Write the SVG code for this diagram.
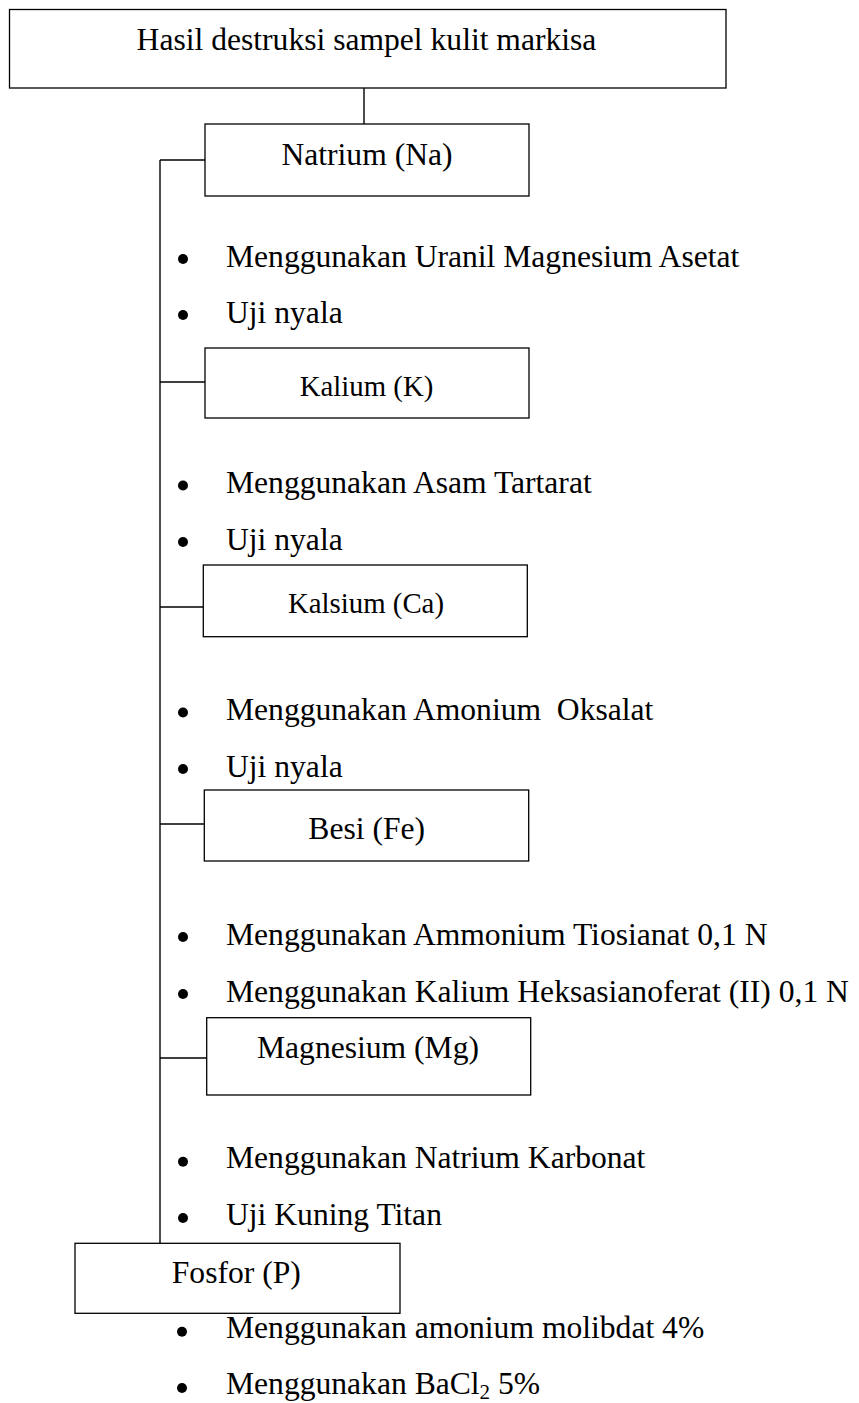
<svg xmlns="http://www.w3.org/2000/svg" width="859" height="1403" viewBox="0 0 859 1403">
  <style>
    .box { fill: #fff; stroke: #000; stroke-width: 1.3; }
    .wire { fill: none; stroke: #000; stroke-width: 1.4; }
    .t { font-family: "Liberation Serif", "Times New Roman", serif; font-size: 31.6px; fill: #000; white-space: pre; }
    .c { text-anchor: middle; }
    .sm { font-size: 28.8px; }
    .dot { fill: #000; }
  </style>

  <rect width="859" height="1403" fill="#fff"/>

  <!-- connectors: drop from the sample box and the left trunk with its branches -->
  <g id="connectors">
    <line class="wire" x1="364" y1="88" x2="364" y2="124"/>
    <line class="wire" x1="160" y1="160" x2="160" y2="1243"/>
    <line class="wire" x1="160" y1="160" x2="205" y2="160"/>
    <line class="wire" x1="160" y1="382" x2="205" y2="382"/>
    <line class="wire" x1="160" y1="607" x2="203" y2="607"/>
    <line class="wire" x1="160" y1="824" x2="204" y2="824"/>
    <line class="wire" x1="160" y1="1058" x2="207" y2="1058"/>
  </g>

  <g id="sample">
    <rect class="box" x="9.5" y="9.5" width="716.5" height="78.5"/>
    <text class="t c" x="366.5" y="50">Hasil destruksi sampel kulit markisa</text>
  </g>

  <g id="natrium">
    <rect class="box" x="205" y="124" width="324" height="72"/>
    <text class="t c" x="367" y="165">Natrium (Na)</text>
    <circle class="dot" cx="183" cy="259" r="5"/>
    <text class="t" x="226" y="266.7">Menggunakan Uranil Magnesium Asetat</text>
    <circle class="dot" cx="183" cy="315" r="5"/>
    <text class="t" x="226" y="322.7">Uji nyala</text>
  </g>

  <g id="kalium">
    <rect class="box" x="205" y="348" width="324" height="70"/>
    <text class="t sm c" x="366.5" y="396">Kalium (K)</text>
    <circle class="dot" cx="183" cy="485.5" r="5"/>
    <text class="t" x="226" y="493.3">Menggunakan Asam Tartarat</text>
    <circle class="dot" cx="183" cy="542" r="5"/>
    <text class="t" x="226" y="550">Uji nyala</text>
  </g>

  <g id="kalsium">
    <rect class="box" x="203.3" y="565" width="324" height="71.7"/>
    <text class="t sm c" x="366" y="612.7">Kalsium (Ca)</text>
    <circle class="dot" cx="183" cy="712.5" r="5"/>
    <text class="t" x="226" y="720.3" xml:space="preserve">Menggunakan Amonium  Oksalat</text>
    <circle class="dot" cx="183" cy="769" r="5"/>
    <text class="t" x="226" y="777">Uji nyala</text>
  </g>

  <g id="besi">
    <rect class="box" x="204.3" y="790" width="324.4" height="71"/>
    <text class="t c" x="366.7" y="839.3">Besi (Fe)</text>
    <circle class="dot" cx="183" cy="937" r="5"/>
    <text class="t" x="226" y="944.5">Menggunakan Ammonium Tiosianat 0,1 N</text>
    <circle class="dot" cx="183" cy="994" r="5"/>
    <text class="t" x="226" y="1002">Menggunakan Kalium Heksasianoferat (II) 0,1 N</text>
  </g>

  <g id="magnesium">
    <rect class="box" x="206.7" y="1017.7" width="324" height="77.3"/>
    <text class="t c" x="368" y="1057.7">Magnesium (Mg)</text>
    <circle class="dot" cx="183" cy="1161.7" r="5"/>
    <text class="t" x="226" y="1167.5">Menggunakan Natrium Karbonat</text>
    <circle class="dot" cx="183" cy="1218" r="5"/>
    <text class="t" x="226" y="1225">Uji Kuning Titan</text>
  </g>

  <g id="fosfor">
    <rect class="box" x="75" y="1243.3" width="325" height="70"/>
    <text class="t c" x="236.3" y="1283.3">Fosfor (P)</text>
    <circle class="dot" cx="182" cy="1331.7" r="5"/>
    <text class="t" x="226" y="1338">Menggunakan amonium molibdat 4%</text>
    <circle class="dot" cx="182" cy="1388" r="5"/>
    <text class="t" x="226" y="1394">Menggunakan BaCl<tspan font-size="21" dy="5">2</tspan><tspan dy="-5"> 5%</tspan></text>
  </g>
</svg>
